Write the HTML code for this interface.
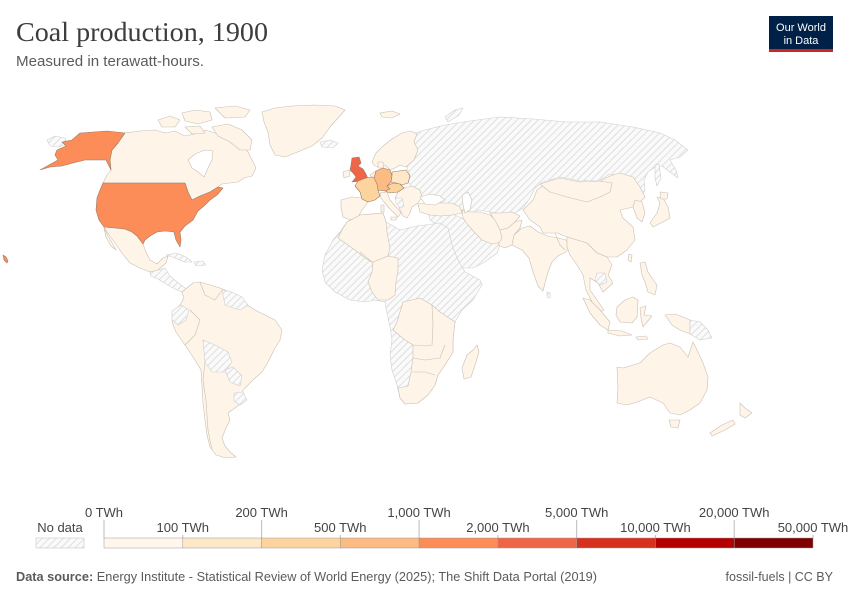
<!DOCTYPE html>
<html><head><meta charset="utf-8"><style>
html,body{margin:0;padding:0;background:#fff;}
svg{display:block;}
text{font-family:"Liberation Sans",sans-serif;}
</style></head><body>
<svg width="850" height="600" viewBox="0 0 850 600" xmlns="http://www.w3.org/2000/svg">
<defs>
<pattern id="h" patternUnits="userSpaceOnUse" width="5" height="5" patternTransform="rotate(45)">
<rect width="5" height="5" fill="#fafafa"/>
<line x1="0" y1="0" x2="0" y2="5" stroke="#d8d8d8" stroke-width="1.6"/>
</pattern>
</defs>
<rect width="850" height="600" fill="#fff"/>

<!-- Title -->
<text x="16" y="41" font-size="27" fill="#3d3d3d" textLength="252" lengthAdjust="spacingAndGlyphs" style="font-family:'Liberation Serif',serif">Coal production, 1900</text>
<text x="16" y="66" font-size="14.5" fill="#5b5b5b" textLength="188" lengthAdjust="spacingAndGlyphs">Measured in terawatt-hours.</text>

<!-- Logo -->
<rect x="769" y="16" width="64" height="36" fill="#002147"/>
<rect x="769" y="49" width="64" height="3" fill="#ce261e"/>
<text x="801" y="31" font-size="11" fill="#fff" text-anchor="middle">Our World</text>
<text x="801" y="44" font-size="11" fill="#fff" text-anchor="middle">in Data</text>

<g stroke-width="0.6" stroke-linejoin="round">
<!-- hatched bases -->
<g fill="url(#h)" stroke="#cfcfcf">
<polygon points="405,142 412,134 425,130 445,125 470,121 500,117 533,119 567,122 600,122 633,127 660,133 675,140 688,150 680,157 670,160 676,170 678,178 670,172 662,166 655,167 648,172 644,180 645,190 641,197 635,190 630,182 620,176 610,174 600,180 580,181 560,177 543,182 535,188 530,198 523,208 515,213 500,214 490,212 478,210 468,214 458,213 448,212 440,208 430,205 422,200 418,192 412,187 408,182 410,175 407,168 410,160 412,150"/>
<polygon points="445,117 455,110 463,108 459,115 448,122"/>
<polygon points="428,212 440,212 452,214 462,218 470,224 478,230 487,233 495,240 500,245 497,253 485,262 473,268 462,268 457,258 450,245 443,235 438,225 430,220"/>
<polygon points="347,222 360,215 383,213 386,222 400,230 417,226 440,223 448,228 452,245 458,260 465,272 480,280 482,285 473,300 462,310 455,322 453,340 453,352 445,365 438,375 435,385 428,395 418,403 405,404 400,398 397,385 392,370 390,355 392,340 390,327 387,313 385,302 375,300 365,302 350,300 335,292 325,282 322,270 325,255 333,240 340,232"/>
<polygon points="47,140 55,136 65,138 67,144 58,147 50,146"/>
<polygon points="320,142 330,140 338,143 333,148 322,147"/>
<polygon points="150,272 158,270 165,268 170,276 177,282 185,288 188,292 182,292 175,289 166,284 158,279 151,276"/>
<polygon points="166,255 176,253 186,257 192,262 184,262 175,258"/>
<polygon points="194,262 203,261 206,265 196,266"/>
</g>

<!-- light (0-100) -->
<g fill="#fef4e8" stroke="#c9bfb3">
<polygon points="125,133 140,131 155,130 165,133 175,131 185,136 195,134 205,130 215,133 225,135 235,140 242,145 248,152 252,160 256,168 252,176 244,178 238,182 230,183 222,184 218,187 210,192 200,196 192,200 188,192 185,183 103,183 107,175 111,170 110,160 112,150 118,143"/>
<polygon points="158,120 170,116 180,120 175,127 162,127"/>
<polygon points="182,113 195,110 210,112 212,120 198,124 185,121"/>
<polygon points="215,108 235,106 250,110 245,117 225,118"/>
<polygon points="212,127 228,124 242,130 252,140 250,150 240,150 230,142 218,136"/>
<polygon points="185,127 200,126 205,133 192,134"/>
<polygon points="262,112 275,108 292,106 315,105 335,106 345,110 338,118 330,127 322,138 312,146 300,151 285,157 275,155 270,145 268,132 264,122"/>
<polygon points="104,227 115,228 125,229 132,232 137,236 143,244 146,252 150,260 157,264 163,258 168,256 166,263 158,270 150,272 140,268 130,263 122,253 115,243 109,235"/>
<polygon points="104,228 108,236 114,246 116,250 111,246 106,237"/>
<polygon points="182,292 188,287 193,283 200,282 210,285 220,288 230,292 240,297 247,305 255,310 265,315 275,320 282,330 280,340 275,348 268,362 262,372 253,380 245,388 240,395 243,402 235,408 228,413 230,420 226,428 222,438 225,446 230,452 236,457 226,458 216,455 210,447 207,435 205,420 203,403 202,385 201,370 195,360 185,345 176,332 172,322 173,312 180,305 184,298"/>
<!-- Europe -->
<polygon points="372,162 376,153 383,146 392,139 402,133 411,131 417,134 414,142 418,150 414,160 406,167 400,165 395,168 390,170 385,165 380,167 375,166"/>
<polygon points="380,113 392,111 400,114 392,118 382,117"/>
<polygon points="343,172 349,170 350,176 344,178"/>
<polygon points="370,175 376,171 377,178 372,178"/>
<polygon points="378,162 383,162 384,168 378,168"/>
<polygon points="341,200 352,197 363,198 368,202 362,210 358,217 350,220 343,217 341,208"/>
<polygon points="380,193 387,192 390,200 397,208 401,213 398,217 395,214 389,208 384,202 381,198"/>
<polygon points="381,205 384,205 384,212 381,212"/>
<polygon points="391,217 397,217 396,220 391,220"/>
<polygon points="398,192 404,188 412,186 420,190 422,197 418,203 412,207 410,213 407,218 403,216 400,210 398,204 395,198"/>
<!-- Asia -->
<polygon points="418,204 428,203 440,203 452,203 460,207 462,213 452,215 440,216 430,215 420,212"/>
<polygon points="462,210 470,212 480,212 490,215 498,222 503,232 502,242 492,244 482,240 475,233 468,225 463,218"/>
<polygon points="490,213 500,213 512,212 520,216 515,222 508,228 500,230 496,222"/>
<polygon points="500,230 508,228 515,222 522,220 520,228 514,235 512,245 505,248 498,245 502,238"/>
<polygon points="514,235 522,228 530,226 538,232 548,236 558,238 566,240 570,246 566,252 558,256 552,262 548,272 545,283 543,291 538,286 533,272 529,258 522,250 512,245"/>
<polygon points="523,210 533,200 537,190 545,184 560,180 580,183 600,181 610,176 620,173 633,177 640,187 645,197 640,202 633,207 620,210 623,218 633,227 635,240 627,250 617,257 607,257 597,253 587,243 577,240 567,237 557,233 543,233 540,227 530,220"/>
<polygon points="540,184 560,178 580,182 600,181 612,183 610,192 600,197 587,202 567,197 550,192"/>
<polygon points="635,200 642,202 645,213 642,222 637,218 633,207"/>
<polygon points="657,197 663,198 668,207 670,218 663,222 653,227 650,223 657,213 660,203"/>
<polygon points="660,192 668,193 667,199 661,199"/>
<polygon points="629,254 632,255 631,262 628,260"/>
<polygon points="567,237 577,240 587,243 597,253 607,257 612,265 608,275 613,283 603,292 598,283 590,278 590,290 597,300 604,310 600,312 592,302 586,290 583,275 577,265 570,255 567,247"/>
<polygon points="640,263 645,262 648,272 652,278 657,285 655,295 648,292 645,282 642,275"/>
<polygon points="583,298 590,300 600,310 610,322 608,330 600,325 590,313"/>
<polygon points="608,330 622,331 632,335 620,336 608,333"/>
<polygon points="617,307 625,300 633,297 638,300 637,317 632,323 620,322 616,315"/>
<polygon points="640,308 646,306 644,315 652,316 647,322 643,327 641,318"/>
<polygon points="665,315 675,314 683,317 690,320 690,334 680,330 672,325"/>
<polygon points="636,337 646,336 648,339 638,340"/>
<!-- Oceania -->
<polygon points="617,367 623,368 640,363 650,353 663,345 670,343 680,347 688,357 693,342 697,350 703,363 708,377 707,390 700,403 690,410 680,415 670,413 663,403 650,397 637,402 627,405 617,403 618,387"/>
<polygon points="669,420 680,420 678,428 671,427"/>
<polygon points="710,433 722,425 733,420 735,424 725,430 712,436"/>
<polygon points="740,403 745,408 752,413 745,418 740,415"/>
<!-- Africa light parts -->
<polygon points="347,222 360,215 383,213 386,222 387,232 390,248 388,256 373,263 365,258 355,250 345,243 338,238 342,230"/>
<polygon points="373,262 388,256 398,258 398,270 396,282 395,295 388,300 378,300 372,292 368,282 372,272"/>
<polygon points="403,302 420,298 432,305 440,312 455,322 453,340 453,352 445,365 438,375 435,385 428,395 418,403 405,404 400,398 398,388 408,386 411,372 413,358 413,345 405,340 393,330 397,322 400,312"/>
<polygon points="477,345 479,352 476,362 471,377 464,379 462,368 467,355 473,350"/>
</g>

<!-- internal borders for texture -->
<g fill="none" stroke="#c9bfb3">
<polyline points="185,345 195,335 200,320 190,310"/>
<polyline points="205,362 203,380 206,400 208,430 212,450"/>
<polyline points="200,282 205,295 215,300 222,290"/>
<polyline points="413,345 425,346 432,345 433,325 432,305"/>
<polyline points="413,358 425,360 440,358 445,345"/>
<polyline points="412,372 425,372 435,375"/>
<polyline points="360,252 372,262"/>
<polyline points="555,233 560,245 565,250"/>
</g>

<!-- hatched overlays -->
<g fill="url(#h)" stroke="#cfcfcf">
<polygon points="172,311 181,305 189,310 186,320 178,325 172,320"/>
<polygon points="222,290 232,292 242,297 248,305 240,310 225,305"/>
<polygon points="203,340 215,345 228,352 232,362 225,372 212,372 205,362"/>
<polygon points="225,370 233,367 242,376 240,386 230,382"/>
<polygon points="234,393 243,392 247,400 240,405 234,401"/>
<polygon points="690,320 700,322 708,330 712,338 700,340 690,334"/>
<polygon points="597,273 605,273 607,282 600,285 595,280"/>
<polygon points="547,292 550,293 550,298 547,297"/>
<polygon points="395,198 402,198 404,206 400,208 396,203"/>
<polygon points="655,165 659,164 661,178 657,186 655,178"/>
</g>

<!-- seas -->
<g fill="#fff" stroke="#c9bfb3">
<polygon points="188,160 195,154 205,150 213,151 212,160 208,168 204,177 198,172 192,168"/>
<polygon points="420,197 430,194 440,196 445,200 435,205 425,204"/>
<polygon points="462,195 468,192 472,200 470,210 465,213 463,205"/>
</g>

<!-- colored countries -->
<g stroke="#9a7b66">
<polygon fill="#fc8d59" points="40,170 58,160 55,155 57,150 66,146 62,142 72,140 80,133 107,131 125,133 118,143 112,150 110,160 111,170 106,160 95,160 85,160 73,163 62,166 50,167"/>
<polygon fill="#fc8d59" points="103,183 185,183 188,192 192,200 200,196 210,192 218,187 223,188 217,195 210,200 205,205 198,211 193,220 185,226 180,232 181,240 180,247 176,240 174,232 165,231 157,232 150,236 145,240 143,244 137,236 132,232 125,229 115,228 104,227 99,220 96,210 97,198 100,190"/>
<polygon fill="#fc8d59" points="3,255 6,257 8,261 7,263 4,260"/>
<polygon fill="#ef6548" points="352,158 359,157 361,163 358,166 363,169 366,174 368,179 362,181 352,182 356,177 353,173 350,170 351,165"/>
<polygon fill="#fdd49e" points="358,181 366,178 372,177 377,178 378,184 378,190 380,196 375,200 368,202 362,199 360,192 355,186"/>
<polygon fill="#fdbb84" points="376,171 383,168 390,170 392,176 391,182 387,186 390,189 385,191 378,190 377,184 374,178"/>
<polygon fill="#fee8c8" points="392,172 406,170 410,176 408,183 402,185 396,183 391,182 392,176"/>
<polygon fill="#fdd49e" points="387,186 393,183 400,184 404,188 398,192 390,193 385,191 390,189"/>
</g>
</g>

<!-- Legend -->
<g font-size="13" fill="#444" text-anchor="middle">
<text x="104" y="517">0 TWh</text>
<text x="261.6" y="517">200 TWh</text>
<text x="419.1" y="517">1,000 TWh</text>
<text x="576.7" y="517">5,000 TWh</text>
<text x="734.2" y="517">20,000 TWh</text>
<text x="182.8" y="532">100 TWh</text>
<text x="340.3" y="532">500 TWh</text>
<text x="497.9" y="532">2,000 TWh</text>
<text x="655.4" y="532">10,000 TWh</text>
<text x="813" y="532">50,000 TWh</text>
<text x="60" y="532">No data</text>
</g>
<g stroke="#bbb" stroke-width="1">
<line x1="104" y1="520" x2="104" y2="538"/>
<line x1="261.6" y1="520" x2="261.6" y2="538"/>
<line x1="419.1" y1="520" x2="419.1" y2="538"/>
<line x1="576.7" y1="520" x2="576.7" y2="538"/>
<line x1="734.2" y1="520" x2="734.2" y2="538"/>
<line x1="182.8" y1="535" x2="182.8" y2="538"/>
<line x1="340.3" y1="535" x2="340.3" y2="538"/>
<line x1="497.9" y1="535" x2="497.9" y2="538"/>
<line x1="655.4" y1="535" x2="655.4" y2="538"/>
<line x1="813" y1="535" x2="813" y2="538"/>
</g>
<g stroke="#999" stroke-width="0.5">
<rect x="104" y="538" width="78.8" height="10" fill="#fff7ec"/>
<rect x="182.8" y="538" width="78.8" height="10" fill="#fee8c8"/>
<rect x="261.6" y="538" width="78.7" height="10" fill="#fdd49e"/>
<rect x="340.3" y="538" width="78.8" height="10" fill="#fdbb84"/>
<rect x="419.1" y="538" width="78.8" height="10" fill="#fc8d59"/>
<rect x="497.9" y="538" width="78.8" height="10" fill="#ef6548"/>
<rect x="576.7" y="538" width="78.7" height="10" fill="#d7301f"/>
<rect x="655.4" y="538" width="78.8" height="10" fill="#b30000"/>
<rect x="734.2" y="538" width="78.8" height="10" fill="#7f0000"/>
<rect x="36" y="538" width="48" height="10" fill="url(#h)" stroke="#bbb"/>
</g>

<!-- Footer -->
<text x="16" y="581" font-size="12.5" fill="#5b5b5b" textLength="581" lengthAdjust="spacingAndGlyphs"><tspan font-weight="bold">Data source:</tspan> Energy Institute - Statistical Review of World Energy (2025); The Shift Data Portal (2019)</text>
<text x="833" y="581" font-size="12.5" fill="#5b5b5b" text-anchor="end">fossil-fuels | CC BY</text>
</svg>
</body></html>
